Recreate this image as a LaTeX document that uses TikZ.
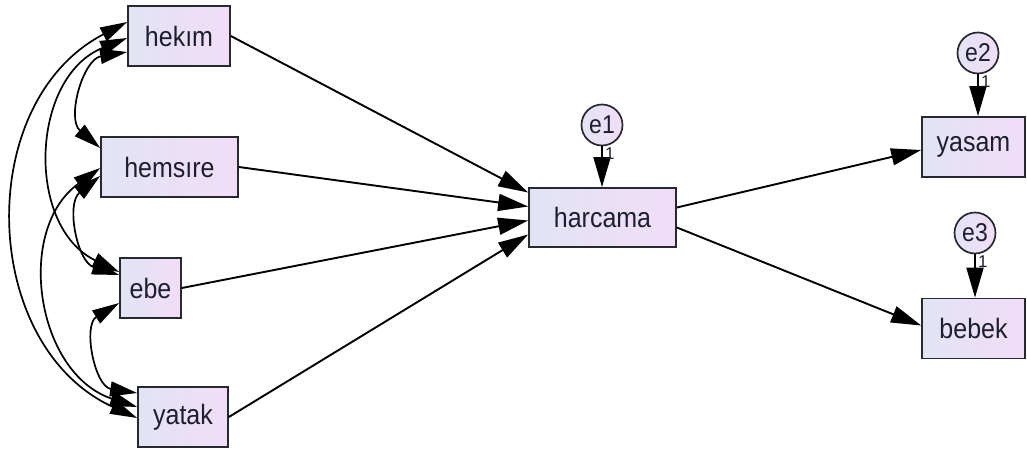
\documentclass[tikz,border=0pt]{standalone}
\usepackage{fontspec}
\usepackage{graphicx}
\setmainfont{Liberation Sans}
\usetikzlibrary{arrows.meta}
\definecolor{boxL}{RGB}{226,228,244}
\definecolor{boxR}{RGB}{241,221,247}
\definecolor{edgec}{RGB}{40,40,48}
\definecolor{txt}{RGB}{30,30,50}
\newcommand\tallt[1]{\scalebox{1}[1.12]{#1}}
\begin{document}
\begin{tikzpicture}[x=1pt,y=1pt,
  var/.style={draw=edgec, line width=1.7pt, left color=boxL, right color=boxR,
    minimum height=60pt, inner sep=0pt, text=txt, font=\fontsize{25}{28}\selectfont},
  err/.style={circle, draw=edgec, line width=1.7pt, left color=boxL, right color=boxR,
    minimum size=41pt, inner sep=0pt, text=txt, font=\fontsize{23}{26}\selectfont},
  reg/.style={line width=1.9pt, draw=black, -{Triangle[length=30pt,width=17pt]}},
  cov/.style={line width=1.7pt, draw=black,
    {Triangle[length=27pt,width=15pt]}-{Triangle[length=27pt,width=15pt]}},
  one/.style={inner sep=0pt, text=txt, font=\fontsize{17}{18}\selectfont}
]
\useasboundingbox (0,0) rectangle (1027,450);
\fill[white] (0,0) rectangle (1027,450);

% observed variables
\node[var, minimum width=102pt] (hekim) at (179,414) {\tallt{hekım}};
\node[var, minimum width=137pt] (hemsire) at (169.5,283) {\tallt{hemsıre}};
\node[var, minimum width=61pt] (ebe) at (150.5,162) {\tallt{ebe}};
\node[var, minimum width=90pt] (yatak) at (183,33) {\tallt{yatak}};
\node[var, minimum width=147pt, minimum height=59pt] (harcama) at (602.5,232.5) {\tallt{harcama}};
\node[var, minimum width=103pt] (yasam) at (973.5,303) {\tallt{yasam}};
\node[var, minimum width=103pt] (bebek) at (973.5,121.5) {\tallt{bebek}};

% errors
\node[err] (e1) at (602,325) {\tallt{e1}};
\node[err] (e2) at (978,397) {\tallt{e2}};
\node[err] (e3) at (975,217) {\tallt{e3}};

% covariances
\draw[cov] ([yshift=14pt]hekim.west) to[bend right=64, looseness=1.12] ([yshift=-1pt]yatak.west);
\draw[cov] ([yshift=-2pt]hekim.west) to[bend right=66, looseness=1.14] ([yshift=16pt]ebe.west);
\draw[cov] ([yshift=-16pt]hekim.west) to[bend right=65, looseness=1.15] ([yshift=19pt]hemsire.west);
\draw[cov] ([yshift=-1pt]hemsire.west) to[bend right=63, looseness=1.12] ([yshift=10pt]yatak.west);
\draw[cov] ([yshift=-9pt]hemsire.west) to[bend right=62, looseness=1.12] ([yshift=13pt]ebe.west);
\draw[cov] ([yshift=-15pt]ebe.west) to[bend right=70, looseness=1.2] ([yshift=24pt]yatak.west);

% regressions
\draw[reg] (hekim.east) -- ([yshift=25pt]harcama.west);
\draw[reg] (hemsire.east) -- ([yshift=11pt]harcama.west);
\draw[reg] (ebe.east) -- ([yshift=-3pt]harcama.west);
\draw[reg] (yatak.east) -- ([yshift=-17pt]harcama.west);
\draw[reg] ([yshift=10pt]harcama.east) -- ([yshift=-3pt]yasam.west);
\draw[reg] ([yshift=-10pt]harcama.east) -- ([yshift=3pt]bebek.west);

% error paths
\draw[reg] (e1.south) -- (e1.south |- harcama.north);
\draw[reg] (e2.south) -- (e2.south |- yasam.north);
\draw[reg] (e3.south) -- (e3.south |- bebek.north);
\node[one, anchor=north west] (o1) at ([xshift=3pt,yshift=-1pt]e1.south) {1};
\node[one, anchor=north west] (o2) at ([xshift=3pt,yshift=-1pt]e2.south) {1};
\node[one, anchor=north west] (o3) at ([xshift=3pt,yshift=-1pt]e3.south) {1};
\end{tikzpicture}
\end{document}
